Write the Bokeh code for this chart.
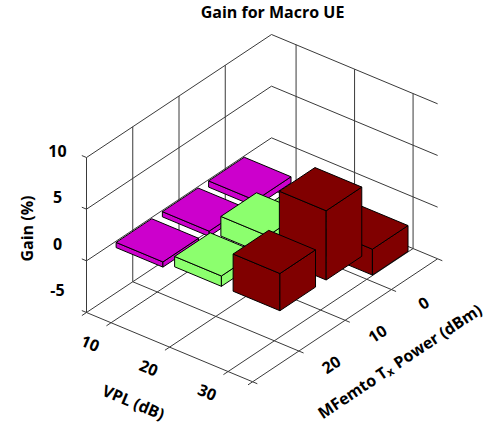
import math
from bokeh.plotting import figure
from bokeh.models import Range1d
from bokeh.embed import file_html
from bokeh.resources import INLINE
from bokeh.core.properties import value

# ---------------- data ----------------
TITLE = "Gain for Macro UE"
VPL_LABELS = ["10", "20", "30"]          # VPL (dB) – series, front-left axis
POWER_LABELS = ["20", "10", "0"]         # MFemto Tx power (dBm), front to back
Z_TICKS = [-5, 0, 5, 10]
GAIN_VPL10 = [-0.5, -0.5, -0.6]          # gain (%) at 20, 10, 0 dBm
GAIN_VPL20 = [1.0, 1.9, -0.5]
GAIN_VPL30 = [3.6, 6.7, -2.5]
SERIES = [GAIN_VPL10, GAIN_VPL20, GAIN_VPL30]
COLORS = ["#CC00CC", "#8CFF6E", "#800000"]

# ---------------- projection (oblique 3D) ----------------
ORIGIN = (86.0, 312.0)
EU = (58.5, 24.4)       # one VPL category step
EV = (46.25, -30.75)    # one power step
EZ = 10.333             # pixels per gain unit
ZMIN, ZMAX = -5, 10
U_OFF = 0.42
U_MAX = U_OFF * 2 + len(VPL_LABELS) - 1
V_MAX = len(POWER_LABELS) + 1
WU, WV = 0.40, 0.385

def P(u, v, z):
    return (ORIGIN[0] + EU[0] * u + EV[0] * v,
            ORIGIN[1] + EU[1] * u + EV[1] * v - EZ * (z - ZMIN))

W, H = 495, 425
p = figure(width=W, height=H, output_backend="svg", toolbar_location=None,
           x_range=Range1d(0, W), y_range=Range1d(H, 0),
           min_border=0)
p.axis.visible = False
p.grid.visible = False
p.outline_line_color = None
p.background_fill_color = "white"
p.border_fill_color = "white"

FONT = value("Open Sans")
GRID = "#3a3a3a"

# ---------------- walls & floor ----------------
xs, ys = [], []
def seg(a, b):
    xs.append([a[0], b[0]]); ys.append([a[1], b[1]])

u_ticks = [U_OFF + i for i in range(len(VPL_LABELS))]
v_ticks = [1 + j for j in range(len(POWER_LABELS))]
# left wall (u = 0)
for z in Z_TICKS:
    seg(P(0, 0, z), P(0, V_MAX, z))
for v in [0] + v_ticks:
    seg(P(0, v, ZMIN), P(0, v, ZMAX))
# back wall (v = V_MAX)
for z in Z_TICKS:
    seg(P(0, V_MAX, z), P(U_MAX, V_MAX, z))
for u in u_ticks:
    seg(P(u, V_MAX, ZMIN), P(u, V_MAX, ZMAX))
# floor
for v in [0] + v_ticks:
    seg(P(0, v, ZMIN), P(U_MAX, v, ZMIN))
for u in u_ticks + [U_MAX]:
    seg(P(u, 0, ZMIN), P(u, V_MAX, ZMIN))
# tick marks
for z in Z_TICKS:
    seg(P(0, 0, z), P(-0.08, 0, z))
for u in [0] + u_ticks + [U_MAX]:
    seg(P(u, 0, ZMIN), P(u, -0.1, ZMIN))
for v in [0] + v_ticks + [V_MAX]:
    seg(P(U_MAX, v, ZMIN), P(U_MAX + 0.08, v, ZMIN))
p.multi_line(xs, ys, line_color=GRID, line_width=1)

# ---------------- bars ----------------
bars = []
for i, vals in enumerate(SERIES):
    for j, val in enumerate(vals):
        bars.append((U_OFF + i, 1 + j, val, COLORS[i]))
bars.sort(key=lambda b: (b[0] - b[1]))

fx, fy, fc = [], [], []
for uc, vc, val, col in bars:
    top, bot = max(0, val), min(0, val)
    u0, u1, v0, v1 = uc - WU, uc + WU, vc - WV, vc + WV
    faces = [
        [P(u0, v0, bot), P(u1, v0, bot), P(u1, v0, top), P(u0, v0, top)],
        [P(u1, v0, bot), P(u1, v1, bot), P(u1, v1, top), P(u1, v0, top)],
        [P(u0, v0, top), P(u1, v0, top), P(u1, v1, top), P(u0, v1, top)],
    ]
    for f in faces:
        fx.append([q[0] for q in f]); fy.append([q[1] for q in f]); fc.append(col)
p.patches(fx, fy, fill_color=fc, line_color="black", line_width=1,
          line_join="round")

# ---------------- texts ----------------
p.text([272], [11], text=[TITLE], text_font=FONT, text_font_style="bold",
       text_font_size="16px", text_align="center", text_baseline="middle",
       text_color="black")

# z tick labels
zx = [57] * len(Z_TICKS)
zy = [0.9 * P(0, 0, z)[1] + 9.0 for z in Z_TICKS]
p.text(zx, zy, text=[str(z) for z in Z_TICKS], text_font=FONT,
       text_font_style="bold", text_font_size="16px", text_align="center",
       text_baseline="middle", text_color="black")
p.text([26], [228], text=["Gain (%)"], text_font=FONT, text_font_style="bold",
       text_font_size="16px", text_align="center", text_baseline="middle",
       angle=math.pi / 2, text_color="black")

# VPL axis labels
a_u = -math.atan2(EU[1], EU[0])
pts = [P(u, -0.45, ZMIN - 0.65) for u in u_ticks]
p.text([q[0] for q in pts], [q[1] for q in pts], text=VPL_LABELS, text_font=FONT,
       text_font_style="bold", text_font_size="16px", text_align="center",
       text_baseline="middle", angle=a_u, text_color="black")
mid = P(U_MAX / 2, 0, ZMIN)
p.text([mid[0] - 36], [mid[1] + 55], text=["VPL (dB)"], text_font=FONT,
       text_font_style="bold", text_font_size="16px", text_align="center",
       text_baseline="middle", angle=a_u, text_color="black")

# power axis labels
a_v = -math.atan2(EV[1], EV[0])
pts = [P(U_MAX + 0.55, v, ZMIN) for v in v_ticks]
p.text([q[0] for q in pts], [q[1] for q in pts], text=POWER_LABELS, text_font=FONT,
       text_font_style="bold", text_font_size="16px", text_align="center",
       text_baseline="middle", angle=a_v, text_color="black")
d = (math.cos(a_v), -math.sin(a_v))
n = (math.sin(a_v), math.cos(a_v))
A = (385.0, 370.0)
p.text([A[0]], [A[1]], text=["MFemto T"], text_font=FONT, text_font_style="bold",
       text_font_size="16px", text_align="right", text_baseline="alphabetic",
       angle=a_v, text_color="black")
p.text([A[0] + 3 * n[0]], [A[1] + 3 * n[1]], text=["x"], text_font=FONT,
       text_font_style="bold", text_font_size="11px", text_align="left",
       text_baseline="alphabetic", angle=a_v, text_color="black")
B = (A[0] + 11.5 * d[0], A[1] + 11.5 * d[1])
p.text([B[0]], [B[1]], text=["Power (dBm)"], text_font=FONT,
       text_font_style="bold", text_font_size="16px", text_align="left",
       text_baseline="alphabetic", angle=a_v, text_color="black")

open("out.html", "w").write(file_html(p, INLINE))
